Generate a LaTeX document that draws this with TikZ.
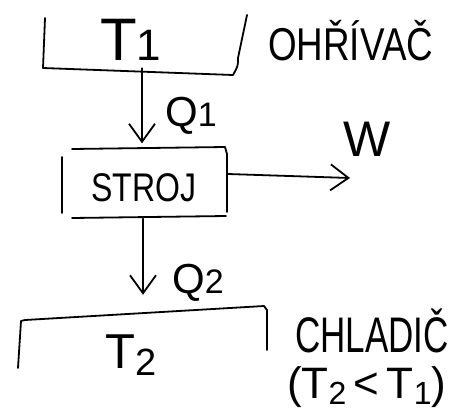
\documentclass[tikz,border=0pt]{standalone}
\usepackage{fontspec}
\setmainfont{Liberation Sans}
\usetikzlibrary{arrows.meta}
\newcommand{\fs}[1]{\fontsize{#1}{#1}\selectfont}
\begin{document}
\begin{tikzpicture}[x=1pt,y=-1pt,
  hand/.style={line width=1.8pt, line cap=round, line join=round},
  arr/.style={hand, -{Straight Barb[length=18pt,width=26pt]}},
  lbl/.style={inner sep=0pt, anchor=base west},
  region/.style={inner sep=0pt, draw=none, rectangle},
]
\useasboundingbox (0,0) rectangle (457,410);
% regions
\node[region, minimum width=204pt, minimum height=60pt] (hot) at (145,45) {};
\node[region, minimum width=166pt, minimum height=71pt] (engine) at (145,183) {};
\node[region, minimum width=249pt, minimum height=62pt] (cold) at (143,337) {};
\coordinate (wend) at (350,178);
% hot reservoir
\draw[hand] (45,18) -- (43,68) -- (233,75) .. controls (238,66) .. (238,58) -- (247,15);
% engine box
\draw[hand] (62,157) -- (62,213);
\draw[hand] (72,149) -- (225,147) -- (227,154) -- (227,212);
\draw[hand] (72,218) -- (226,216);
% cold reservoir
\draw[hand] (18,368) -- (21,321) -- (25,320) -- (264,306) -- (267,310) -- (267,350);
% arrows
\draw[arr] (hot.south -| engine.north) ++(-3,-7) coordinate (q1s) -- ([xshift=-3pt,yshift=4pt]engine.north);
\draw[arr] ([xshift=-2pt]engine.south) -- ([yshift=11pt]cold.north);
\draw[arr] ([yshift=9pt]engine.east) -- (wend);
% labels
\node[lbl] (t1) at (100,60) {\fs{60}T\fs{44}1};
\node[lbl] (heater) at (268,60) {\scalebox{0.8}[1]{\fs{46}OHŘÍVAČ}};
\node[lbl] (q1) at (165,126) {\fs{42}Q\fs{34}1};
\node[lbl] (stroj) at (91,201) {\scalebox{0.8}[1]{\fs{40}STROJ}};
\node[lbl] (w) at (343,156) {\fs{50}W};
\node[lbl] (q2) at (172,293) {\fs{42}Q\fs{34}2};
\node[lbl] (t2) at (105,368) {\fs{49}T\raisebox{-7pt}{\fs{38}2}};
\node[lbl] (cooler) at (295,352) {\scalebox{0.7}[1]{\fs{50}CHLADIČ}};
\node[lbl] (cond) at (287,398) {\fs{44}(T\raisebox{-6pt}{\fs{32}2}\,<\,T\raisebox{-6pt}{\fs{32}1})};
\end{tikzpicture}
\end{document}
